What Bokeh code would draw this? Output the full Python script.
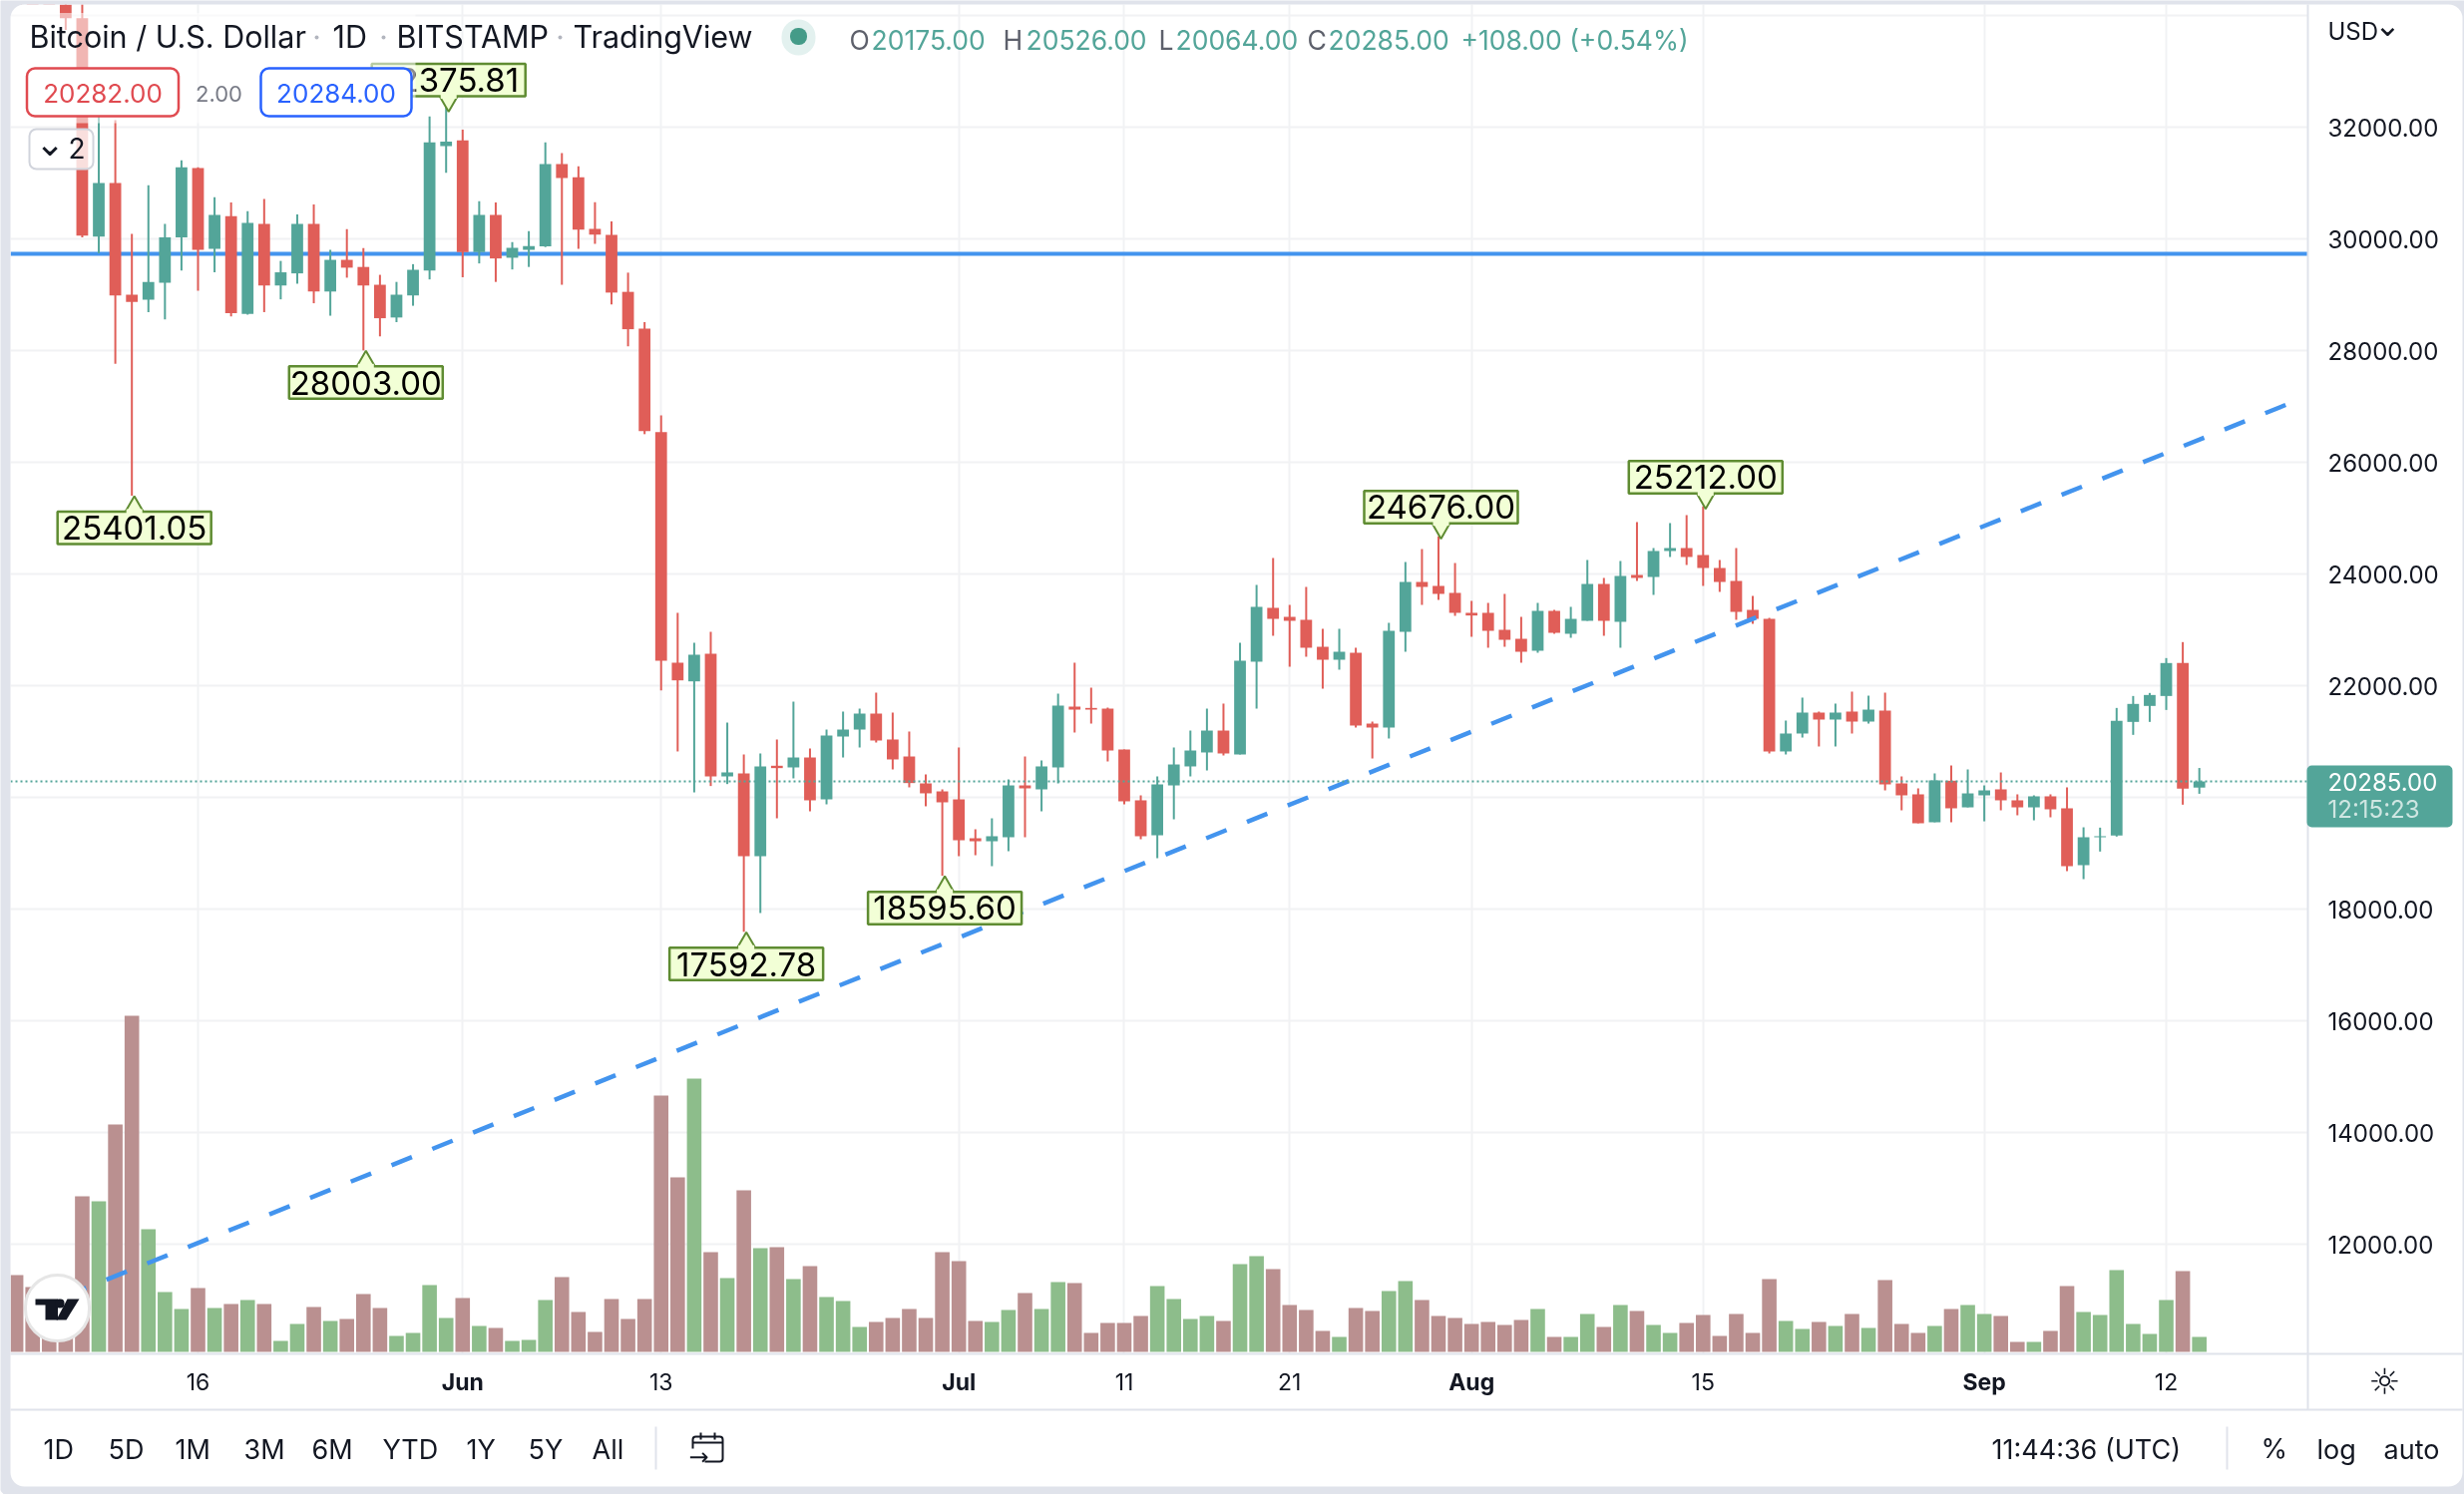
from bokeh.plotting import figure
from bokeh.embed import file_html
from bokeh.resources import INLINE
from bokeh.models import (Range1d, FixedTicker, Span, Label, BoxAnnotation,
                          PolyAnnotation, ColumnDataSource, NumeralTickFormatter)

# ---------- data (one entry per day, 5 May 2022 .. 14 Sep 2022) ----------
opens = [36500, 36000, 35500, 35000, 33950, 30038, 31000, 29000, 28910, 29216, 30025, 31267, 29821, 30407, 28656, 30267, 29165, 29382, 30267, 29057, 29624, 29497, 29178, 28592, 28987, 29433, 31662,
         31764, 29764, 30427, 29662, 29802, 29866, 31338, 31102, 30178, 30070, 29051, 28395, 26541, 22411, 22077, 22571, 20375, 20429, 18947, 20566, 20536, 20714, 19965, 21089, 21214, 21500, 21036, 20732, 20250, 20107,
         19964, 19268, 19214, 19286, 20214, 20143, 20536, 21625, 21601, 21589, 20857, 19947, 19321, 20214, 20554, 20804, 21196, 20768, 22429, 23393, 23232, 23179, 22696, 22464, 22589, 21321, 21250, 22964, 23857, 23786, 23661,
         23304, 23304, 23000, 22839, 22625, 23339, 22929, 23161, 23821, 23143, 23982, 23946, 24411, 24464, 24339, 24107, 23875, 23357, 23196, 20822, 21143, 21518, 21393, 21536, 21357, 21554, 20250, 20054, 19554, 20298, 19821,
         20036, 20143, 19947, 19821, 20018, 19804, 18786, 19286, 19316, 21351, 21637, 21815, 22405, 20175]
highs = [37000, 36200, 35800, 35300, 34250, 32600, 32127, 30089, 30962, 30267, 31408, 31280, 30745, 30650, 30497, 30713, 29605, 30439, 30618, 29802, 30172, 29834, 29356, 29229, 29547, 32191, 32375.81,
         31955, 30675, 30650, 29942, 30140, 31726, 31535, 31299, 30656, 30312, 29395, 28509, 26840, 23304, 22768, 22964, 21339, 20768, 20786, 21036, 21714, 20875, 21214, 21536, 21589, 21875, 21518, 21179, 20411, 20143,
         20893, 19429, 19625, 20321, 20732, 20661, 21857, 22411, 21964, 21607, 20857, 20036, 20375, 20893, 21196, 21589, 21679, 22768, 23804, 24286, 23446, 23768, 23018, 23018, 22679, 21357, 23125, 24214, 24446, 24676, 24196,
         23518, 23482, 23643, 23232, 23482, 23357, 23411, 24250, 23929, 24232, 24929, 24464, 24911, 25054, 25212, 24250, 24464, 23607, 23214, 21375, 21786, 21536, 21679, 21893, 21821, 21875, 20375, 20161, 20429, 20571, 20500,
         20214, 20446, 20054, 20036, 20054, 20179, 19464, 19458, 21601, 21815, 21869, 22494, 22780, 20526]
lows = [35700, 35300, 34800, 33740, 30025, 29739, 27764, 25401.05, 28688, 28560, 29433, 29070, 29401, 28611, 28643, 28688, 28917, 29197, 28847, 28624, 29305, 28003, 28254, 28509, 28802, 29274, 31185,
        29312, 29560, 29229, 29452, 29497, 29853, 29178, 29821, 29911, 28828, 28076, 26503, 21917, 20822, 20089, 20203, 20238, 17592.78, 17929, 19625, 20340, 19750, 19875, 20714, 20893, 20982, 20500, 20179, 19840, 18595.60,
        18947, 18964, 18768, 19036, 19286, 19750, 20250, 21161, 21321, 20643, 19875, 19250, 18911, 19607, 20375, 20482, 20750, 20768, 21589, 22893, 22339, 22518, 21946, 22286, 21250, 20696, 21054, 22607, 23446, 23536, 23250,
        22875, 22679, 22696, 22411, 22589, 22929, 22857, 23161, 22893, 22679, 23875, 23625, 24304, 24161, 23786, 23679, 23179, 23107, 20786, 20768, 21071, 20911, 20911, 21143, 21321, 20125, 19768, 19536, 19554, 19554, 19821,
        19571, 19768, 19679, 19589, 19643, 18679, 18536, 19030, 19298, 21119, 21351, 21565, 19869, 20064]
closes = [35900, 35500, 35000, 33950, 30060, 31000, 28987, 28872, 29229, 30025, 31280, 29802, 30427, 28668, 30286, 29165, 29401, 30267, 29057, 29624, 29484, 29165, 28579, 29000, 29446, 31726, 31739,
          29764, 30427, 29649, 29841, 29872, 31338, 31089, 30165, 30076, 29038, 28382, 26560, 22447, 22095, 22554, 20375, 20447, 18947, 20554, 20524, 20714, 19947, 21107, 21214, 21500, 21018, 20679, 20256, 20072, 19911,
          19232, 19214, 19304, 20214, 20161, 20554, 21643, 21571, 21571, 20839, 19929, 19304, 20232, 20589, 20839, 21196, 20786, 22447, 23411, 23196, 23161, 22679, 22464, 22607, 21286, 21250, 22982, 23857, 23768, 23643, 23304,
          23256, 22982, 22821, 22607, 23339, 22946, 23196, 23821, 23161, 23964, 23929, 24411, 24464, 24304, 24107, 23857, 23321, 23196, 20822, 21143, 21518, 21393, 21518, 21357, 21571, 20232, 20036, 19536, 20304, 19804, 20071,
          20125, 19947, 19821, 20018, 19786, 18768, 19286, 19304, 21369, 21673, 21833, 22405, 20155, 20285]
volumes = [7700, 6500, 4500, 5500, 15600, 15100, 22800, 33700, 12300, 6000, 4300, 6400, 4400, 4800, 5200, 4800, 1100, 2800, 4500, 3100, 3300, 5800, 4400, 1600, 1900, 6700, 3400,
           5400, 2600, 2400, 1100, 1200, 5200, 7500, 4000, 2000, 5300, 3300, 5300, 25700, 17500, 27400, 10000, 7400, 16200, 10400, 10500, 7300, 8600, 5500, 5100, 2500, 3000, 3400, 4300, 3400, 10000,
           9100, 3100, 3000, 4200, 5900, 4300, 7000, 6900, 1900, 2900, 2900, 3600, 6600, 5300, 3300, 3600, 3100, 8800, 9600, 8300, 4700, 4200, 2100, 1500, 4400, 4100, 6100, 7100, 5200, 3600, 3400,
           2800, 3000, 2700, 3200, 4300, 1500, 1500, 3800, 2500, 4700, 4100, 2700, 1900, 2900, 3700, 1600, 3800, 1900, 7300, 3100, 2300, 3000, 2600, 3800, 2400, 7200, 2800, 1900, 2600, 4300, 4700,
           3800, 3600, 1000, 1000, 2100, 6600, 4000, 3700, 8200, 2800, 1800, 5200, 8100, 1500]
price_ticks = [12000, 14000, 16000, 18000, 22000, 24000, 26000, 28000, 30000, 32000]
grid_prices = [12000, 14000, 16000, 18000, 20000, 22000, 24000, 26000, 28000, 30000, 32000, 34000]
date_ticks = [11, 27, 39, 57, 67, 77, 88, 102, 119, 130]
date_labels = ["16", "Jun", "13", "Jul", "11", "21", "Aug", "15", "Sep", "12"]
callout_days = [7, 21, 26, 44, 56, 86, 102]
callout_values = [25401.05, 28003.00, 32375.81, 17592.78, 18595.60, 24676.00, 25212.00]
callout_is_high = [False, False, True, False, False, True, True]
support_level = 29732
last_price = 20285
trend_days = [3, 137.3]
trend_prices = [11071, 27036]

assert len(opens) == len(highs) == len(lows) == len(closes) == len(volumes) == 133

# ---------- layout in reference pixels ----------
W, H = 2470, 1498
FL, FR, FT, FB = 10, 2313, 4, 1357
PX_DAY = 16.58
PX_PRICE = 0.056
X_AT_DAY0 = 15.62
FONT = "Inter"
INK = "#131722"
UP, DOWN = "#53a599", "#e05e58"
VUP, VDOWN = "#8dbd8b", "#ba9090"
SEP = "#e0e3eb"
GRID = "#f1f2f4"
GREEN_EDGE, GREEN_FILL = "#5f8c32", "#f2ffd6"
BLUE = "#4394ee"

x0 = (FL - X_AT_DAY0) / PX_DAY
x1 = (FR - X_AT_DAY0) / PX_DAY
y1 = 32000 + (127 - FT) / PX_PRICE
y0 = 32000 - (FB - 127) / PX_PRICE

FIXED = {"position": "fixed", "left": "0px", "top": "0px"}

# chart figure
chart = figure(width=W, height=H, output_backend="svg", toolbar_location=None,
               x_range=Range1d(x0, x1), y_range=Range1d(y0, y1), y_axis_location="right",
               min_border_left=FL, min_border_right=W - FR, min_border_top=FT, min_border_bottom=H - FB)
chart.styles = dict(FIXED)
chart.border_fill_color = "white"
chart.background_fill_color = "white"
chart.outline_line_color = None
chart.extra_y_ranges["vol"] = Range1d(-200, (1355 - FT) * 100)

# transparent figure on top of it for the terminal's panels, title and toolbars
top = figure(width=W, height=H, output_backend="svg", toolbar_location=None,
             x_range=Range1d(0, W), y_range=Range1d(0, H), x_axis_type=None, y_axis_type=None,
             min_border=0, min_border_left=0, min_border_right=0, min_border_top=0, min_border_bottom=0)
top.styles = dict(FIXED)
top.border_fill_color = None
top.background_fill_color = None
top.outline_line_color = None
top.grid.visible = False


def sy(y):
    return H - y


def box(l, r, t, b, fill="white", alpha=1.0, line=None, lw=1, radius=0):
    top.add_layout(BoxAnnotation(left=l, right=r, top=sy(t), bottom=sy(b),
                                 left_units="screen", right_units="screen", top_units="screen", bottom_units="screen",
                                 fill_color=fill, fill_alpha=alpha, line_color=line, line_width=lw, line_alpha=1.0,
                                 border_radius=int(radius), editable=False))


def text(x, y, s, size, color=INK, align="left", style="normal", font=FONT):
    top.add_layout(Label(x=x, y=sy(y), x_units="screen", y_units="screen", text=s,
                         text_font=font, text_font_size=f"{size}px", text_color=color,
                         text_align=align, text_baseline="middle", text_font_style=style))


# axes and grid
xa = chart.xaxis[0]
xa.ticker = FixedTicker(ticks=date_ticks)
xa.major_label_overrides = {d: (t if t.isdigit() else " ") for d, t in zip(date_ticks, date_labels)}
xa.major_label_text_font = FONT
xa.major_label_text_font_size = "23px"
xa.major_label_text_color = INK
xa.major_label_standoff = 8
xa.major_tick_line_color = None
xa.minor_tick_line_color = None
xa.axis_line_color = None

ya = chart.yaxis[0]
ya.ticker = FixedTicker(ticks=price_ticks)
ya.formatter = NumeralTickFormatter(format="0.00")
ya.major_label_text_font = FONT
ya.major_label_text_font_size = "24px"
ya.major_label_text_color = INK
ya.major_label_standoff = 14
ya.major_tick_line_color = None
ya.minor_tick_line_color = None
ya.axis_line_color = None

chart.xgrid[0].ticker = FixedTicker(ticks=date_ticks)
chart.ygrid[0].ticker = FixedTicker(ticks=grid_prices)
chart.xgrid[0].grid_line_color = GRID
chart.ygrid[0].grid_line_color = GRID
chart.xgrid[0].grid_line_width = 2
chart.ygrid[0].grid_line_width = 2

chart.add_layout(Span(location=support_level, dimension="width", line_color=BLUE, line_width=4, level="underlay"))

# volume
days = list(range(len(opens)))
is_up = [c >= o for o, c in zip(opens, closes)]
src = ColumnDataSource(dict(
    day=days, open=opens, high=highs, low=lows, close=closes, vol=volumes,
    top=[max(o, c) for o, c in zip(opens, closes)], bottom=[min(o, c) for o, c in zip(opens, closes)],
    color=[UP if u else DOWN for u in is_up], vcolor=[VUP if u else VDOWN for u in is_up]))
chart.vbar(x="day", top="vol", bottom=0, width=0.88, source=src, fill_color="vcolor", line_color=None, y_range_name="vol")

# candles
chart.segment(x0="day", x1="day", y0="low", y1="high", source=src, line_color="color", line_width=2)
chart.vbar(x="day", top="top", bottom="bottom", width=0.71, source=src, fill_color="color", line_color=None)

# trend line
chart.line(trend_days, trend_prices, line_color=BLUE, line_width=4.5, line_dash="22 22")

# last price line
chart.add_layout(Span(location=last_price, dimension="width", line_color=UP, line_width=2, line_dash="2 3"))

# high / low callouts
for d, v, hi in zip(callout_days, callout_values, callout_is_high):
    if hi:
        gap_tip, box_near, box_far = (3, 13, 45.5) if v < 30000 else (0, 10, 42.5)
        sign = 1
    else:
        gap_tip, box_near, box_far = 6, 16, 48.5
        sign = -1
    cx = d + 2.5 / PX_DAY
    chart.scatter([cx], [v + sign * (gap_tip + 6) / PX_PRICE], marker="inverted_triangle" if hi else "triangle",
                  size=20, fill_color=GREEN_FILL, line_color=GREEN_EDGE, line_width=2, level="overlay")
    near = v + sign * box_near / PX_PRICE
    far = v + sign * box_far / PX_PRICE
    chart.add_layout(BoxAnnotation(left=cx - 77 / PX_DAY, right=cx + 77 / PX_DAY,
                                   top=max(near, far), bottom=min(near, far),
                                   fill_color=GREEN_FILL, fill_alpha=1.0, line_color=GREEN_EDGE, line_width=2.5, line_alpha=1.0,
                                   editable=False, level="overlay"))
    # open the box border where the pointer joins it
    a, b = near - 2.5 / PX_PRICE, near + 2.5 / PX_PRICE
    chart.add_layout(BoxAnnotation(left=cx - 8 / PX_DAY, right=cx + 8 / PX_DAY, top=b, bottom=a,
                                   fill_color=GREEN_FILL, fill_alpha=1.0, line_color=None,
                                   editable=False, level="overlay"))
    chart.add_layout(Label(x=cx, y=(near + far) / 2, text=f"{v:.2f}", text_font=FONT, text_font_size="33px",
                           text_color="black", text_align="center", text_baseline="middle", level="overlay"))

# legend veil
box(FL, 416, 12.5, 123, alpha=0.55)

# outer band with rounded inner corners, and the panel separators
box(2, 2476, -4, 1498, fill=None, line=SEP, lw=16, radius=22)
box(FR - 1, FR + 1, FT, 1413, fill=SEP)
box(FL, 2468, FB - 1, FB + 1, fill=SEP)
box(FL, 2468, 1412, 1414, fill=SEP)

# title row
for s, x in [("Bitcoin / U.S. Dollar", 29), ("1D", 333), ("BITSTAMP", 397), ("TradingView", 574)]:
    text(x, 36, s, 30.5)
for x in (317, 384, 561):
    box(x - 2, x + 2, 35, 39, fill="#b2b5be", radius=2)
box(783, 817, 19, 55, fill="#e3f1ef", radius=17)
box(791.5, 808.5, 27.5, 44.5, fill="#449b88", radius=8)

for x, s, col in [(851, "O", "#5d606b"), (873, "20175.00", UP), (1005, "H", "#5d606b"), (1028, "20526.00", UP),
                  (1161, "L", "#5d606b"), (1178, "20064.00", UP), (1310, "C", "#5d606b"), (1331, "20285.00", UP),
                  (1464, "+108.00 (+0.54%)", UP)]:
    text(x, 39, s, 26.5, col)

# pills
for l, r, c, s in [(26.5, 178.5, "#e04a50", "20282.00"), (261, 412, "#2962ff", "20284.00")]:
    box(l, r, 68, 116, line=c, lw=2.5, radius=8)
    text((l + r) / 2, 93, s, 26, c, "center")
text(219, 93, "2.00", 22, "#787b86", "center")
box(29, 93, 129, 169, alpha=0.8, line="#d1d4dc", lw=2, radius=7)
text(49.5, 143, "\u2304", 36, align="center", font="DejaVu Sans")
text(76.5, 148, "2", 28, align="center")

# month labels on the time axis
for d, t in zip(date_ticks, date_labels):
    if not t.isdigit():
        text(X_AT_DAY0 + PX_DAY * d, 1385, t, 23, align="center", style="bold")

# right panel chrome
text(2333, 30.5, "USD", 24)
text(2393, 24, "\u2304", 32, font="DejaVu Sans", align="center")
box(FR - 1, 2458, 767, 829, fill=UP, radius=5)
text(2333, 783, "20285.00", 24, "white")
text(2333, 811, "12:15:23", 24, "#cfe6e2")
text(2390, 1385, "\u263c", 36, font="DejaVu Sans", align="center")

# bottom toolbar
for x, s in [(43, "1D"), (108, "5D"), (175, "1M"), (244, "3M"), (312, "6M"), (383, "YTD"), (467, "1Y"), (529, "5Y"), (593, "All")]:
    text(x, 1453, s, 27)
box(656, 658, 1430, 1473, fill=SEP)
# date-range icon
box(694, 724, 1440, 1465, fill=None, line=INK, lw=2, radius=3)
box(690, 706, 1452, 1468, fill="white")
box(701, 703, 1436, 1443, fill=INK)
box(715, 717, 1436, 1443, fill=INK)
box(694, 724, 1445, 1447, fill=INK)
text(700, 1460, "\u2192", 24, font="DejaVu Sans", align="center")

text(1996, 1453, "11:44:36 (UTC)", 27)
box(2231, 2233, 1430, 1473, fill=SEP)
text(2266, 1452, "%", 27)
text(2322, 1453, "log", 27)
text(2389, 1453, "auto", 27)

# logo
box(25, 89, 1278, 1344, line="#e6e6e6", lw=3, radius=33)
for xs, ys in [([35, 57.5, 57.5, 45, 45, 35], [1302, 1302, 1323, 1323, 1308, 1308]),
               ([67, 79, 66, 56], [1302, 1302, 1323, 1323])]:
    top.add_layout(PolyAnnotation(xs=xs, ys=[sy(v) for v in ys], xs_units="screen", ys_units="screen",
                                  fill_color=INK, fill_alpha=1.0, line_color=None, editable=False))
box(55, 64, 1302, 1311, fill=INK, radius=4)

p = [chart, top]
open("out.html", "w").write(file_html(p, INLINE))
